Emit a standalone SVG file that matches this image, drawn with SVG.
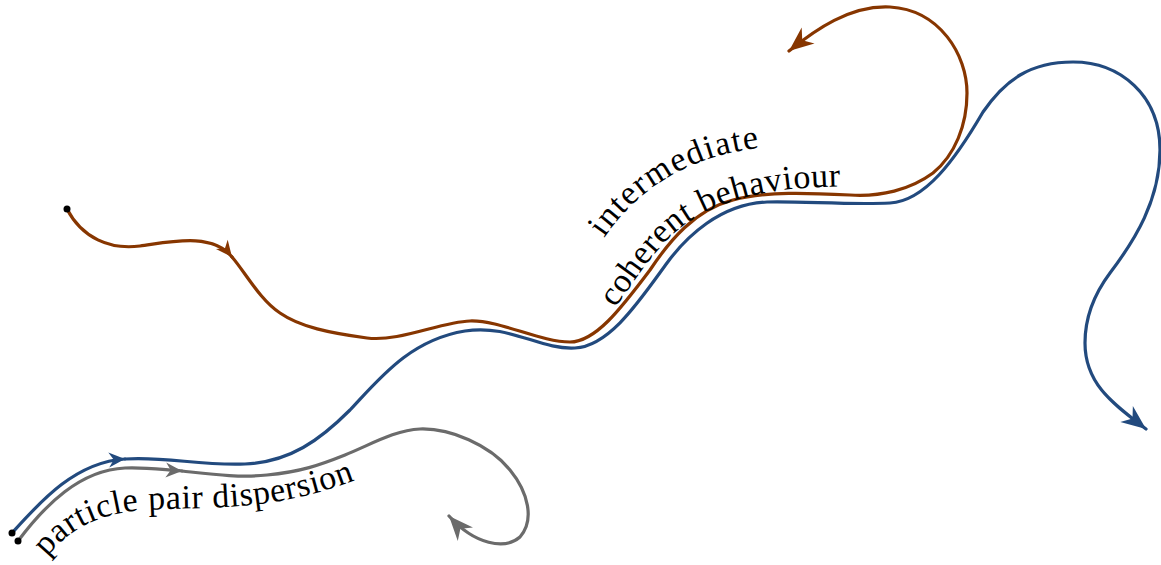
<svg xmlns="http://www.w3.org/2000/svg" width="1161" height="565" viewBox="0 0 1161 565">
  <style>
    .trk { fill: none; stroke-width: 3.2; stroke-linecap: round; stroke-linejoin: round; }
    .blue { stroke: #224a7e; }
    .brown { stroke: #873600; }
    .gray { stroke: #6b6b6b; }
    .dot { fill: #000; }
    .lbl { font-family: "Liberation Serif", "Times New Roman", serif; font-size: 34px; letter-spacing: 0.6px; fill: #000; }
    .wide { letter-spacing: 1.4px; }
  </style>
  <defs>
    <marker id="endBlue" markerUnits="userSpaceOnUse" markerWidth="30" markerHeight="30" refX="0" refY="0" viewBox="-20 -10 22 20" orient="auto" overflow="visible">
      <path d="M0,0 L-18,-7.5 L-12.5,0 L-18,7.5 Z" fill="#224a7e"/>
    </marker>
    <marker id="endBrown" markerUnits="userSpaceOnUse" markerWidth="30" markerHeight="30" refX="0" refY="0" viewBox="-20 -10 22 20" orient="auto" overflow="visible">
      <path d="M0,0 L-18,-7.5 L-12.5,0 L-18,7.5 Z" fill="#873600"/>
    </marker>
    <marker id="endGray" markerUnits="userSpaceOnUse" markerWidth="30" markerHeight="30" refX="0" refY="0" viewBox="-20 -10 22 20" orient="auto" overflow="visible">
      <path d="M0,0 L-18,-7.5 L-12.5,0 L-18,7.5 Z" fill="#6b6b6b"/>
    </marker>
    <marker id="midBlue" markerUnits="userSpaceOnUse" markerWidth="20" markerHeight="20" refX="0" refY="0" viewBox="-14 -8 16 16" orient="auto" overflow="visible">
      <path d="M0,0 L-13,-6 L-9,0 L-13,6 Z" fill="#224a7e"/>
    </marker>
    <marker id="midBrown" markerUnits="userSpaceOnUse" markerWidth="20" markerHeight="20" refX="0" refY="0" viewBox="-14 -8 16 16" orient="auto" overflow="visible">
      <path d="M0,0 L-13,-6 L-9,0 L-13,6 Z" fill="#873600"/>
    </marker>
    <marker id="midGray" markerUnits="userSpaceOnUse" markerWidth="20" markerHeight="20" refX="0" refY="0" viewBox="-14 -8 16 16" orient="auto" overflow="visible">
      <path d="M0,0 L-13,-6 L-9,0 L-13,6 Z" fill="#6b6b6b"/>
    </marker>
    <path id="pPair" d="M 47,557 C 70,528 100,513 145,510 C 200,506 275,515 370,474"/>
    <path id="pCoh" d="M 615,308 C 633,284 653,249 683,226 C 713,204 749,194 791,189 C 816,187 836,186 866,186"/>
    <path id="pInt" d="M 604,238 C 624,209 651,184 686,168 C 714,155 744,148 794,144"/>
  </defs>

  <g id="connectors">
    <g id="track-blue">
      <path class="trk blue" marker-end="url(#midBlue)" d="M 12,533 C 40,502 75,462 125,459"/>
      <path class="trk blue" marker-end="url(#endBlue)" d="M 125,459 C 165,456 200,466 245,464 C 290,462 320,440 350,410 C 380,378 410,340 465,331 C 510,324 540,350 575,348 C 610,346 640,300 667,263 C 686,237 720,204 767,202 C 800,201 850,205 890,203 C 925,201 955,160 983,112 C 1005,80 1030,62 1073,62 C 1120,62 1160,95 1160,150 C 1160,200 1135,240 1110,273 C 1095,293 1085,315 1085,343 C 1085,385 1115,405 1146,429"/>
    </g>
    <g id="track-brown">
      <path class="trk brown" marker-end="url(#midBrown)" d="M 67,209 C 82,238 110,250 140,246 C 170,242 212,232 232,257"/>
      <path class="trk brown" marker-end="url(#endBrown)" d="M 232,257 C 245,272 260,300 280,313 C 300,327 330,333 367,338 C 400,342 440,322 470,321 C 500,320 540,342 570,342 C 595,342 620,310 650,270 C 670,240 695,210 733,200 C 765,191 810,193 850,195 C 880,197 910,190 933,173 C 955,155 967,125 967,93 C 967,55 940,10 890,7 C 850,5 815,30 789,51"/>
    </g>
    <g id="track-gray">
      <path class="trk gray" marker-end="url(#midGray)" d="M 18,541 C 45,505 80,470 125,468 C 145,467 165,470 182,471"/>
      <path class="trk gray" marker-end="url(#endGray)" d="M 182,471 C 210,474 240,478 267,475 C 300,472 320,465 345,455 C 370,445 395,430 420,429 C 450,428 490,445 510,470 C 528,492 535,520 520,537 C 505,550 475,545 449,516"/>
    </g>
  </g>

  <g id="start-points">
    <circle class="dot" cx="12" cy="533" r="3.5"/>
    <circle class="dot" cx="18" cy="541" r="3.5"/>
    <circle class="dot" cx="67" cy="209" r="3.5"/>
  </g>

  <g id="label-dispersion">
    <text class="lbl"><textPath href="#pPair">particle pair dispersion</textPath></text>
  </g>
  <g id="label-coherent">
    <text class="lbl wide"><textPath href="#pInt">intermediate</textPath></text>
    <text class="lbl"><textPath href="#pCoh">coherent behaviour</textPath></text>
  </g>
</svg>
